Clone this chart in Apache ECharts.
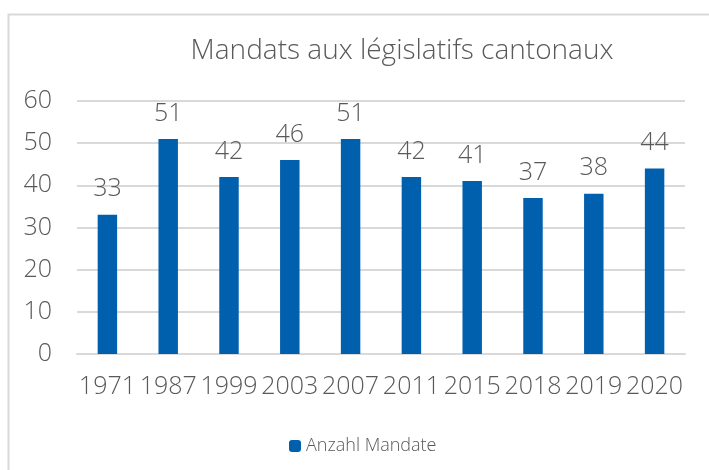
<!DOCTYPE html>
<html>
<head>
<meta charset="utf-8">
<script src="https://cdn.jsdelivr.net/npm/echarts@6/dist/echarts.min.js"></script>
<style>html,body{margin:0;padding:0;background:#fff}#c{width:709px;height:470px}</style>
</head>
<body>
<div id="c"></div>
<script>
const categories = ['1971','1987','1999','2003','2007','2011','2015','2018','2019','2020'];
const mandates = [33, 51, 42, 46, 51, 42, 41, 37, 38, 44];
const yTicks = [0, 10, 20, 30, 40, 50, 60];
const titleText = 'Mandats aux législatifs cantonaux';
const seriesName = 'Anzahl Mandate';

const chart = echarts.init(document.getElementById('c'), null, {renderer: 'canvas'});
const font = "'Open Sans', sans-serif";
const txt = '#595959';
chart.setOption({
  animation: false,
  backgroundColor: '#fff',
  graphic: [{
    type: 'rect', left: 6, top: 12,
    shape: {width: 740, height: 500},
    style: {fill: 'none', stroke: '#d9d9d9', lineWidth: 2}, silent: true
  }],
  title: {
    text: titleText, left: 397, top: 32, textAlign: 'center',
    textStyle: {fontFamily: font, fontWeight: 300, fontSize: 28, color: txt}
  },
  legend: {
    data: [seriesName], bottom: 15, left: 289, padding: 0, itemWidth: 12, itemHeight: 12, itemGap: 5,
    textStyle: {fontFamily: font, fontWeight: 300, fontSize: 18, color: txt}
  },
  grid: {left: 77, right: 24, top: 101, bottom: 116},
  xAxis: {
    type: 'category', data: categories,
    axisLine: {show: true, lineStyle: {color: '#d9d9d9', width: 2}},
    axisTick: {show: false},
    axisLabel: {interval: 0, hideOverlap: false, fontFamily: font, fontWeight: 300, fontSize: 25, color: txt, margin: 20}
  },
  yAxis: {
    type: 'value', min: yTicks[0], max: yTicks[yTicks.length - 1], interval: 10,
    axisLine: {show: false}, axisTick: {show: false},
    splitLine: {lineStyle: {color: '#d9d9d9', width: 2}},
    axisLabel: {fontFamily: font, fontWeight: 300, fontSize: 25, color: txt, margin: 25}
  },
  series: [{
    name: seriesName, type: 'bar', data: mandates, barWidth: '32%',
    itemStyle: {color: '#0060AD'},
    label: {show: true, position: 'top', distance: 13, fontFamily: font, fontWeight: 300, fontSize: 25, color: txt}
  }]
});
</script>
</body>
</html>
